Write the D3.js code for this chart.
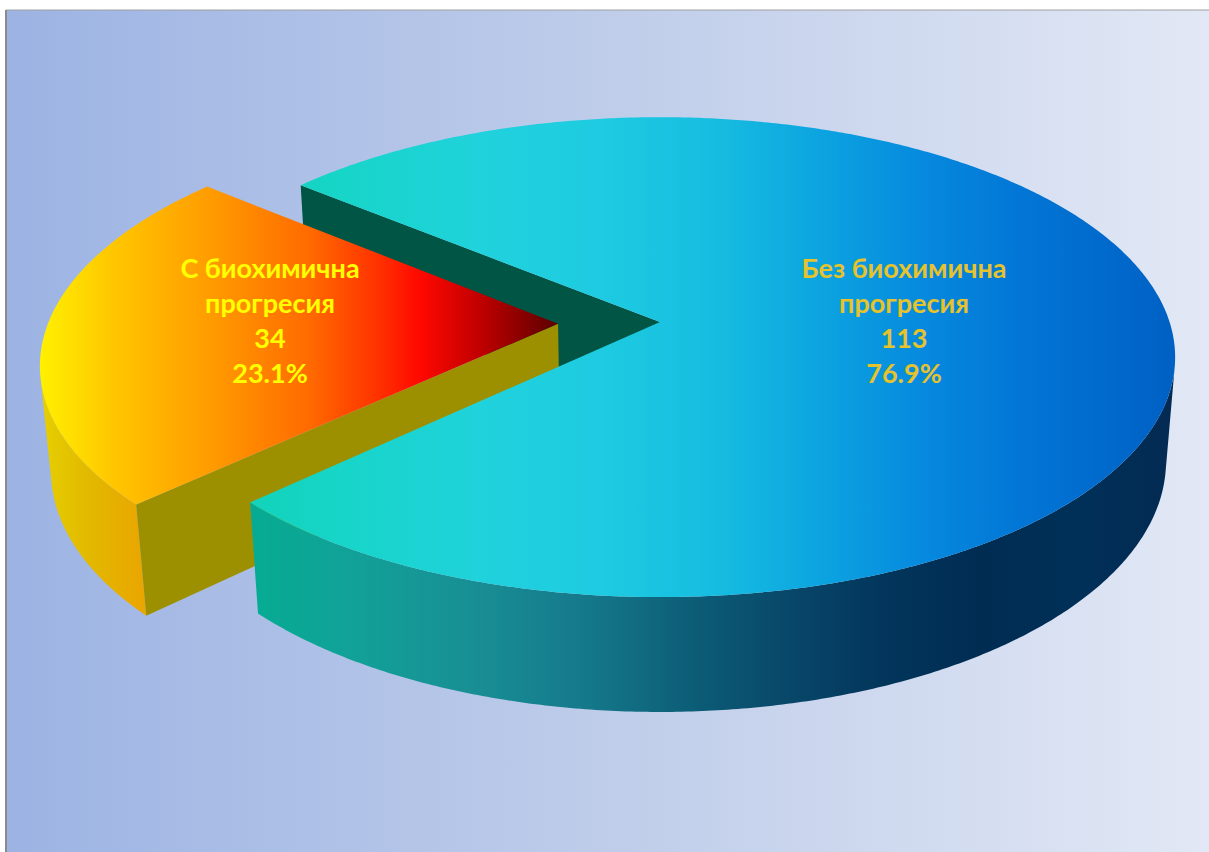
<!DOCTYPE html>
<html><head><meta charset="utf-8">
<script src="https://cdn.jsdelivr.net/npm/d3@7"></script>
<style>html,body{margin:0;padding:0;background:#fff;overflow:hidden}</style>
</head><body>
<svg id="chart" width="1209" height="852"></svg>
<script>
// ---- data ----
const categories = ["С биохимична прогресия", "Без биохимична прогресия"];
const labelLines = [["С биохимична", "прогресия"], ["Без биохимична", "прогресия"]];
const values = [34, 113];
const labelColors = ["#ffff00", "#e6c22c"];

const W = 1209, H = 852;
const svg = d3.select("#chart");
const defs = svg.append("defs");

// background
const bg = defs.append("linearGradient").attr("id","bg").attr("x1","0").attr("x2","1").attr("y1","0").attr("y2","0");
[["0%","#9cb3e3"],["50%","#bfcdea"],["100%","#e2e8f5"]].forEach(s=>bg.append("stop").attr("offset",s[0]).attr("stop-color",s[1]));
svg.append("rect").attr("x",6).attr("y",10).attr("width",W).attr("height",H).attr("fill","url(#bg)");
svg.append("line").attr("x1",6).attr("x2",6).attr("y1",10).attr("y2",H).attr("stroke","#8a8a8a").attr("stroke-width",2);
svg.append("line").attr("x1",6).attr("x2",W).attr("y1",10).attr("y2",10).attr("stroke","#a0a0a0").attr("stroke-width",1);

// ---- 3D perspective projection ----
const x0 = 660, y0 = 322, F = 3088, dist = 6.06;
const phi = Math.asin(0.4608), sn = Math.sin(phi), cs = Math.cos(phi);
const thick = 0.232, explode = 0.2;
function project(X, Y, Z) {
  const depth = dist - sn*Y - cs*Z;
  return [x0 + F*X/depth, y0 - F*(cs*Y - sn*Z)/depth];
}
const line = d3.line().curve(d3.curveLinear);

const pie = d3.pie().sort(null)
  .startAngle(226.3*Math.PI/180).endAngle((226.3+360)*Math.PI/180);
const arcs = pie(values);
// convert d3 angle (clockwise from 12 o'clock) to screen-plane angle a (from +X toward viewer)
const toA = t => t - Math.PI/2;

function slice(i) {
  const d = arcs[i];
  const a0 = toA(d.startAngle), a1 = toA(d.endAngle);
  const am = (a0+a1)/2;
  const ox = i===0 ? explode*Math.cos(am) : 0, oz = i===0 ? explode*Math.sin(am) : 0;
  const pt = (a, Y) => project(Math.cos(a)+ox, Y, Math.sin(a)+oz);
  const n = Math.max(8, Math.ceil((a1-a0)/(Math.PI/360)));
  const samp = d3.range(n+1).map(k => a0 + (a1-a0)*k/n);
  return {a0, a1, ox, oz, pt, samp};
}
function grad(id, stops) {
  const g = defs.append("linearGradient").attr("id", id).attr("gradientUnits","userSpaceOnUse")
    .attr("x1",0).attr("x2",W).attr("y1",0).attr("y2",0);
  stops.forEach(s => g.append("stop").attr("offset", (s[0]/W)).attr("stop-color", s[1]));
}
grad("blueTop", [[259,"#12d3bb"],[340,"#17d5c8"],[480,"#20d2dc"],[600,"#1ecbe1"],[720,"#16bce0"],[820,"#0ca4e0"],[920,"#068ade"],[1020,"#0276d6"],[1175,"#0060c4"]]);
grad("blueSide", [[259,"#07ab93"],[360,"#12a098"],[470,"#188f94"],[580,"#157a8c"],[680,"#0d6079"],[780,"#08496a"],[880,"#03365c"],[980,"#002c52"],[1080,"#003058"],[1175,"#032a52"]]);
grad("orTop", [[40,"#fff000"],[110,"#ffc800"],[210,"#ff9c00"],[310,"#ff6a00"],[380,"#ff3000"],[420,"#ff0800"],[480,"#c00000"],[562,"#560000"]]);
grad("orSide", [[40,"#e6d000"],[90,"#e2b800"],[160,"#eca000"]]);

const orange = slice(0), blue = slice(1);
const g = svg.append("g");

function topFace(s) {
  const c = project(s.ox, 0, s.oz);
  return line([c].concat(s.samp.map(a => s.pt(a, 0)))) + "Z";
}
function cutFace(s, a) {
  return line([project(s.ox,0,s.oz), s.pt(a,0), s.pt(a,-thick), project(s.ox,-thick,s.oz)]) + "Z";
}
function sideFace(s) {
  // visible part of outer cylinder wall
  const vis = s.samp.filter(a => (-1 - s.ox*Math.cos(a) - s.oz*Math.sin(a) + dist*cs*Math.sin(a)) > 0);
  if (vis.length < 2) return null;
  return line(vis.map(a => s.pt(a,0)).concat(vis.slice().reverse().map(a => s.pt(a,-thick)))) + "Z";
}

// painter's order
g.append("path").attr("d", cutFace(blue, blue.a0)).attr("fill", "#005545");
g.append("path").attr("d", sideFace(orange)).attr("fill", "url(#orSide)");
g.append("path").attr("d", cutFace(orange, orange.a0)).attr("fill", "#9c9000");
g.append("path").attr("d", topFace(orange)).attr("fill", "url(#orTop)");
g.append("path").attr("d", sideFace(blue)).attr("fill", "url(#blueSide)");
g.append("path").attr("d", topFace(blue)).attr("fill", "url(#blueTop)");

// labels
const fmt = d3.format(".1%");
const total = d3.sum(values);
const labelPos = [[270, 278], [904, 278]];
values.forEach((v, i) => {
  const lines = labelLines[i].concat([String(v), fmt(v/total)]);
  const t = svg.append("text").attr("text-anchor","middle")
    .attr("font-family","Lato, 'Open Sans', sans-serif").attr("font-weight","bold")
    .attr("font-size", 27).attr("fill", labelColors[i]);
  lines.forEach((l, k) => t.append("tspan").attr("x", labelPos[i][0]).attr("y", labelPos[i][1] + k*35).text(l));
});
</script>
</body></html>
